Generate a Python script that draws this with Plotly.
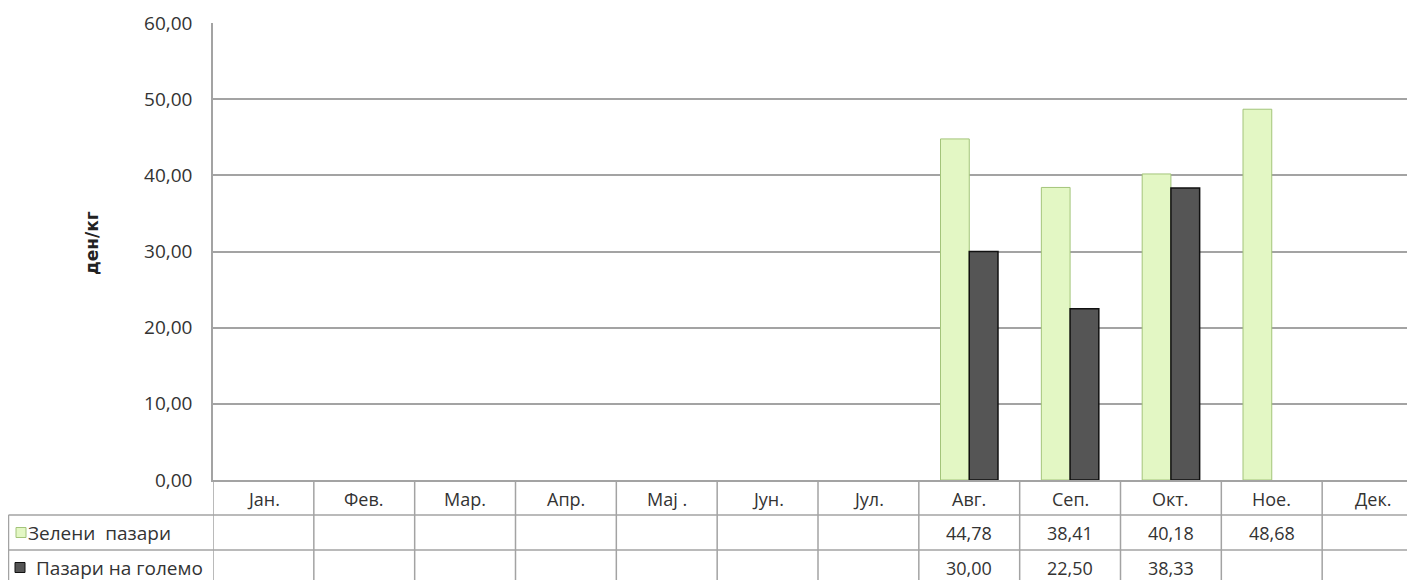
import plotly.graph_objects as go

months = ["Јан.", "Фев.", "Мар.", "Апр.", "Мај .", "Јун.", "Јул.",
          "Авг.", "Сеп.", "Окт.", "Ное.", "Дек."]
series_names = ["Зелени  пазари", "Пазари на големо"]
green_markets = [None, None, None, None, None, None, None, 44.78, 38.41, 40.18, 48.68, None]
wholesale = [None, None, None, None, None, None, None, 30.00, 22.50, 38.33, None, None]
y_title = "ден/кг"

colors = {"green": "#e3f7c4", "green_line": "#a3c47a",
          "dark": "#555555", "dark_line": "#111111",
          "grid": "#a3a3a3", "text": "#333333"}
font = "Open Sans"

# figure geometry in px (page body adds an 8px offset)
fig_w, fig_h = 1415, 580
plot_l, plot_t, plot_b = 205, 15, 472
row_h = 35
legend_left = 0.5
plot_w = fig_w - plot_l
plot_h = plot_b - plot_t


def px_x(px):
    return (px - plot_l) / plot_w


def px_y(py):
    return (plot_b - py) / plot_h


def fmt(v):
    return "" if v is None else f"{v:.2f}".replace(".", ",")


fig = go.Figure()
fig.add_trace(go.Bar(x=months, y=green_markets, name=series_names[0],
                     marker=dict(color=colors["green"],
                                 line=dict(color=colors["green_line"], width=1))))
fig.add_trace(go.Bar(x=months, y=wholesale, name=series_names[1],
                     marker=dict(color=colors["dark"],
                                 line=dict(color=colors["dark_line"], width=1.5))))

shapes = []
annotations = []
line_style = dict(color=colors["grid"], width=1.5)

# data table under the plot
table_bottom = plot_b + 3 * row_h
for i in range(len(months) + 1):
    shapes.append(dict(type="line", xref="x", yref="paper", x0=i - 0.5, x1=i - 0.5,
                       y0=px_y(plot_b), y1=px_y(table_bottom), line=line_style))
for r in (1, 2, 3):
    yy = px_y(plot_b + r * row_h)
    shapes.append(dict(type="line", xref="paper", yref="paper", x0=px_x(legend_left), x1=1.05,
                       y0=yy, y1=yy, line=line_style))
shapes.append(dict(type="line", xref="paper", yref="paper",
                   x0=px_x(legend_left), x1=px_x(legend_left),
                   y0=px_y(plot_b + row_h), y1=px_y(table_bottom), line=line_style))

for i, m in enumerate(months):
    annotations.append(dict(x=m, xref="x", y=px_y(plot_b + row_h / 2 + 1), yref="paper",
                            text=m, showarrow=False, yanchor="middle"))
    for r, vals in enumerate((green_markets, wholesale), start=1):
        annotations.append(dict(x=m, xref="x", y=px_y(plot_b + row_h * (r + 0.5)), yref="paper",
                                text=fmt(vals[i]), showarrow=False, yanchor="middle"))

# legend keys in the table
keys = [(colors["green"], colors["green_line"], 8, 18),
        (colors["dark"], colors["dark_line"], 7, 26)]
for r, (fill, edge, kx, tx) in enumerate(keys, start=1):
    cy = plot_b + row_h * (r + 0.5)
    shapes.append(dict(type="rect", xref="paper", yref="paper",
                       x0=px_x(kx), x1=px_x(kx + 10), y0=px_y(cy - 5), y1=px_y(cy + 5),
                       fillcolor=fill, line=dict(color=edge, width=1)))
    annotations.append(dict(x=px_x(tx), xref="paper", y=px_y(cy), yref="paper",
                            text=series_names[r - 1].replace("  ", "&nbsp; "),
                            font=dict(size=19),
                            showarrow=False, xanchor="left", yanchor="middle"))

# y axis title
annotations.append(dict(x=px_x(84), xref="paper", y=px_y(235), yref="paper",
                        text=f"<b>{y_title}</b>", textangle=-90, showarrow=False,
                        font=dict(family="DejaVu Sans", size=17, color="#222222"),
                        xanchor="center", yanchor="middle"))

fig.update_layout(
    width=fig_w, height=fig_h,
    margin=dict(l=plot_l, r=0, t=plot_t, b=fig_h - plot_b),
    plot_bgcolor="white", paper_bgcolor="white",
    font=dict(family=font, size=18, color=colors["text"]),
    separators=",.",
    barmode="group", bargap=0.43, bargroupgap=0,
    showlegend=False,
    shapes=shapes, annotations=annotations,
)
fig.update_xaxes(range=[-0.5, 11.5], showticklabels=False, ticks="",
                 showline=True, linecolor=colors["grid"], linewidth=1.5, showgrid=False)
fig.update_yaxes(range=[0, 60], dtick=10, tickformat=".2f",
                 showgrid=True, gridcolor=colors["grid"], gridwidth=1.5,
                 showline=True, linecolor=colors["grid"], linewidth=1.5, zeroline=False,
                 ticks="", ticklabelstandoff=15,
                 tickfont=dict(size=19))

fig.write_html("out.html")
